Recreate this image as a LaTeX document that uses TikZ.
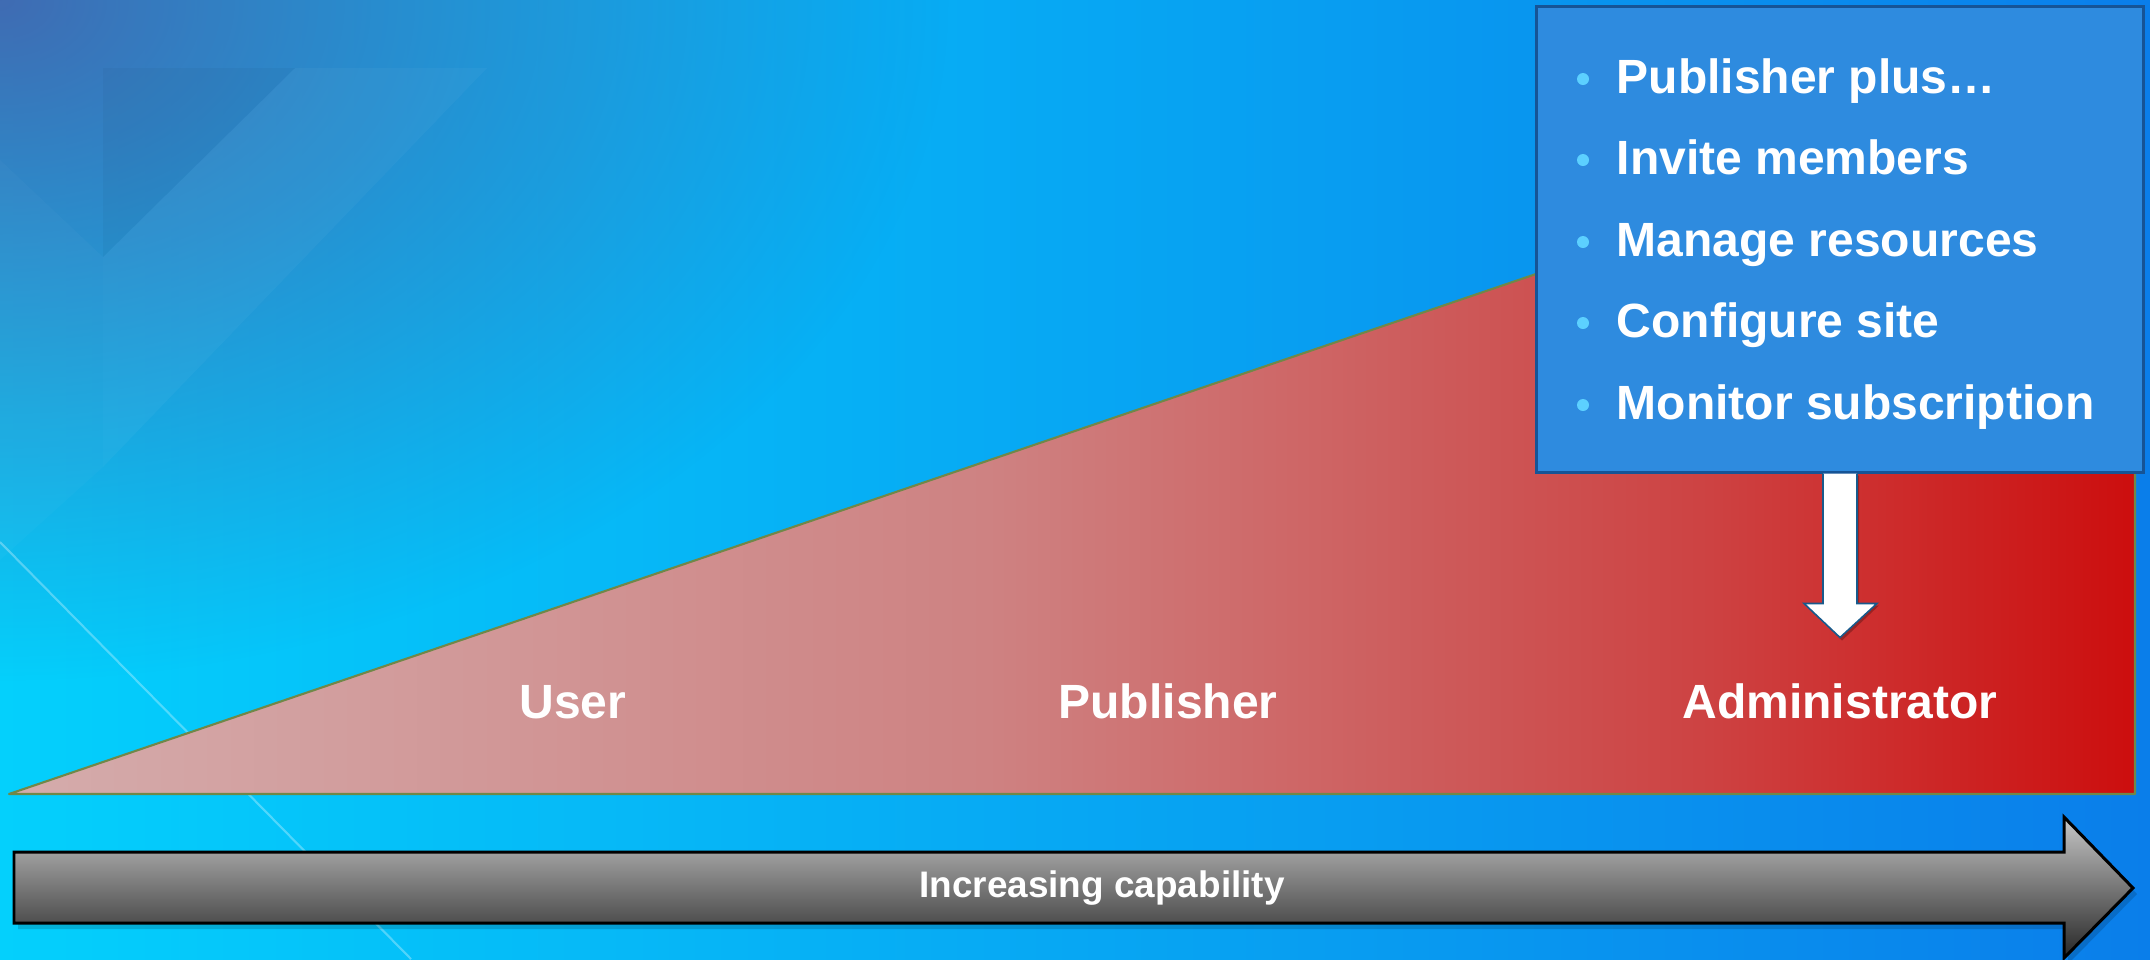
\documentclass[tikz,border=0pt]{standalone}
\usepackage{fontspec}
\setmainfont{Liberation Sans}
\usetikzlibrary{calc,fadings}

\definecolor{bgleft}{RGB}{4,208,252}
\definecolor{bgmid}{RGB}{6,178,248}
\definecolor{bgright}{RGB}{10,126,234}
\definecolor{bgdark}{RGB}{74,90,166}
\definecolor{rampA}{RGB}{212,172,172}
\definecolor{rampB}{RGB}{206,130,130}
\definecolor{rampC}{RGB}{205,66,66}
\definecolor{rampD}{RGB}{204,14,14}
\definecolor{wedgeedge}{RGB}{112,136,72}
\definecolor{boxblue}{RGB}{46,139,223}
\definecolor{boxedge}{RGB}{22,84,150}
\definecolor{dotcyan}{RGB}{92,208,255}
\definecolor{arrowedge}{RGB}{24,90,140}

\pgfdeclarehorizontalshading{rampred}{100bp}{color(0bp)=(rampA); color(25bp)=(rampA); color(48bp)=(rampB); color(65bp)=(rampC); color(75bp)=(rampD); color(100bp)=(rampD)}
\tikzfading[name=glowfade, inner color=transparent!15, outer color=transparent!100]

\tikzset{
  role/.style={text=white, inner sep=0pt, anchor=base, font=\bfseries\fontsize{13.66pt}{16pt}\selectfont},
  item/.style={text=white, inner sep=0pt, anchor=base west, font=\bfseries\fontsize{13.66pt}{16pt}\selectfont},
}

\begin{document}
\begin{tikzpicture}[x=0.01cm, y=-0.01cm]
\useasboundingbox (0,0) rectangle (2150,959);

% Background
\shade[left color=bgleft, middle color=bgmid, right color=bgright] (0,0) rectangle (2150,959);
\fill[bgdark, path fading=glowfade] (0,0) ellipse (9.5cm and 6.8cm);
\fill[white, opacity=.035] (295,68) -- (487,68) -- (103,467) -- (103,257) -- cycle;
\fill[black, opacity=.03] (103,68) -- (295,68) -- (103,257) -- cycle;
\fill[white, opacity=.025] (0,160) -- (103,257) -- (103,467) -- (0,560) -- cycle;
\draw[white, opacity=.3, line width=0.6pt] (0,542) -- (411,959);

% Capability wedge
\coordinate (apex) at (9,794);
\coordinate (base) at (2135,794);
\coordinate (peak) at (2135,70);
\shade[shading=rampred] (apex) -- (base) -- (peak) -- cycle;
\draw[wedgeedge, line width=0.6pt, line join=round] (apex) -- (base) -- (peak) -- cycle;

% Role labels
\node[role] (user) at (573,718) {User};
\node[role] (publisher) at (1168,718) {Publisher};
\node[role] (admin) at (1840,718) {Administrator};

% Administrator box
\node[draw=boxedge, fill=boxblue, line width=0.85pt, minimum width=6.06cm, minimum height=4.65cm] (box) at (1840,239.5) {};
\fill[dotcyan] (1583,79) circle (0.06cm);
\node[item] (plus) at (1616,93) {Publisher plus…};
\fill[dotcyan] (1583,160) circle (0.06cm);
\node[item] (invite) at (1616,174) {Invite members};
\fill[dotcyan] (1583,242) circle (0.06cm);
\node[item] (manage) at (1616,256) {Manage resources};
\fill[dotcyan] (1583,323) circle (0.06cm);
\node[item] (config) at (1616,337) {Configure site};
\fill[dotcyan] (1583,405) circle (0.06cm);
\node[item] (monitor) at (1616,419) {Monitor subscription};

% Arrow down to Administrator
\coordinate (tail) at (box.south);
\coordinate (tip) at ($(admin.north)+(0,-45)$);
\fill[black, opacity=.25] ($(tail)+(-15,2)$) -- ($(tail |- tip)+(-15,-32)$) -- ($(tail |- tip)+(-34,-32)$) -- ($(tip)+(2,3)$) -- ($(tail |- tip)+(39,-32)$) -- ($(tail |- tip)+(19,-32)$) -- ($(tail)+(19,2)$) -- cycle;
\filldraw[fill=white, draw=arrowedge, line width=0.45pt, line join=miter] ($(tail)+(-17,0)$) -- ($(tail |- tip)+(-17,-34)$) -- ($(tail |- tip)+(-36,-34)$) -- (tip) -- ($(tail |- tip)+(37,-34)$) -- ($(tail |- tip)+(17,-34)$) -- ($(tail)+(17,0)$);

% Increasing capability arrow
\fill[black, opacity=.15] (18,858) -- (2068,858) -- (2068,823) -- (2137,894) -- (2068,964) -- (2068,929) -- (18,929) -- cycle;
\shade[top color=black!22, middle color=black!47, bottom color=black!85, draw=black, line width=0.85pt, line join=miter]
  (14,852) -- (2064,852) -- (2064,817) -- (2133,888) -- (2064,958) -- (2064,923) -- (14,923) -- cycle;
\node[text=white, inner sep=0pt, anchor=base, font=\bfseries\fontsize{10.5pt}{12pt}\selectfont] (capability) at (1102,897) {Increasing capability};
\end{tikzpicture}
\end{document}
